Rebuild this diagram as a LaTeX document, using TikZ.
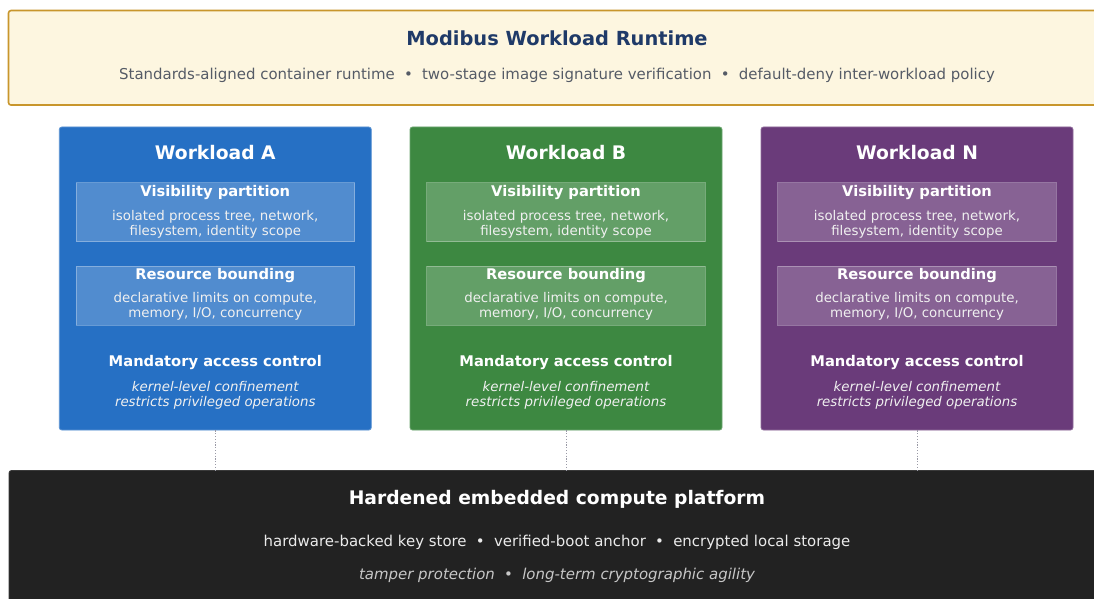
\documentclass[tikz,border=0pt]{standalone}
\usepackage{fontspec}
\setmainfont{DejaVu Sans}
\definecolor{runfill}{HTML}{FDF6E0}
\definecolor{rundraw}{HTML}{C8962C}
\definecolor{runtitle}{HTML}{1F3A68}
\definecolor{runsub}{HTML}{555B66}
\definecolor{wla}{HTML}{2670C4}
\definecolor{wlb}{HTML}{3D8841}
\definecolor{wln}{HTML}{6A3B7A}
\definecolor{platfill}{HTML}{222222}
\definecolor{platedge}{HTML}{3A3A3A}
\definecolor{linkgray}{HTML}{9A9AA6}
\newcommand\bulletsep{\hspace{0.62em}•\hspace{0.62em}}
\tikzset{
  runbox/.style={draw=rundraw, fill=runfill, line width=1.6pt, rounded corners=2.5pt,
    minimum width=1097, minimum height=94.5, inner sep=0pt},
  wlbox/.style={draw=#1!75!white, fill=#1, line width=0.8pt, rounded corners=2.5pt,
    minimum width=312, minimum height=303, inner sep=0pt},
  partbox/.style={draw=white, draw opacity=0.3, fill=white, fill opacity=0.2, line width=0.9pt,
    minimum width=278.5, minimum height=59, inner sep=0pt},
  platbox/.style={draw=platedge, fill=platfill, line width=0.8pt, rounded corners=2.5pt,
    minimum width=1096, minimum height=150, inner sep=0pt},
  txt/.style={anchor=base, inner sep=0pt, outer sep=0pt},
  bigtitle/.style={txt, font=\fontsize{19.4}{23}\selectfont\bfseries},
  wltitle/.style={txt, text=white, font=\fontsize{18.7}{22}\selectfont\bfseries},
  parttitle/.style={txt, text=white, font=\fontsize{14.7}{17}\selectfont\bfseries},
  partbody/.style={txt, text=white!94!black, font=\fontsize{13.35}{15}\selectfont},
  macbody/.style={txt, text=white!94!black, font=\fontsize{13.35}{15}\selectfont\itshape},
  subline/.style={txt, font=\fontsize{14.95}{17}\selectfont},
  link/.style={draw=linkgray, line width=0.9pt, dash pattern=on 1.2pt off 1.6pt},
}
% one isolated workload column: name, x centre, colour, label
\newcommand\workload[4]{%
  \node[wlbox=#3] (#1) at (#2,278.5) {};
  \node[wltitle] (#1-title) at (#2,159) {Workload #4};
  \node[partbox] (#1-vis) at (#2,212.3) {};
  \node[parttitle] (#1-vis-t) at (#2,196) {Visibility partition};
  \node[partbody] (#1-vis-1) at (#2,220) {isolated process tree, network,};
  \node[partbody] (#1-vis-2) at (#2,235.2) {filesystem, identity scope};
  \node[partbox] (#1-res) at (#2,295.5) {};
  \node[parttitle] (#1-res-t) at (#2,279.3) {Resource bounding};
  \node[partbody] (#1-res-1) at (#2,302.7) {declarative limits on compute,};
  \node[partbody] (#1-res-2) at (#2,317.5) {memory, I/O, concurrency};
  \node[parttitle] (#1-mac-t) at (#2,366.7) {Mandatory access control};
  \node[macbody] (#1-mac-1) at (#2,391.7) {kernel-level confinement};
  \node[macbody] (#1-mac-2) at (#2,406.7) {restricts privileged operations};
}
\begin{document}
\begin{tikzpicture}[x=1pt,y=-1pt]
  \fill[white] (0,0) rectangle (1094,599);
  \useasboundingbox (0,0) rectangle (1094,599);
  \clip (0,0) rectangle (1094,599);

  % runtime banner
  \node[runbox] (runtime) at (557,57.8) {};
  \node[bigtitle, text=runtitle] (runtime-title) at (557,46) {Modibus Workload Runtime};
  \node[subline, text=runsub] (runtime-sub) at (557,79.3)
    {Standards-aligned container runtime\bulletsep two-stage image signature verification\bulletsep default-deny inter-workload policy};

  % platform base
  \node[platbox] (platform) at (557,545.5) {};
  \node[bigtitle, text=white, font=\fontsize{18.7}{22}\selectfont\bfseries] (platform-title) at (557,504) {Hardened embedded compute platform};
  \node[subline, text=white!92!black] (platform-sub) at (557,546.7)
    {hardware-backed key store\bulletsep verified-boot anchor\bulletsep encrypted local storage};
  \node[subline, text=white!78!black, font=\fontsize{14.95}{17}\selectfont\itshape] (platform-note) at (557,579.5)
    {tamper protection\bulletsep long-term cryptographic agility};

  % workloads
  \workload{A}{215.3}{wla}{A}
  \workload{B}{566}{wlb}{B}
  \workload{N}{917}{wln}{N}

  % links down to the platform
  \foreach \w in {A,B,N}
    \draw[link] (\w.south) -- (\w.south |- platform.north);
\end{tikzpicture}
\end{document}
